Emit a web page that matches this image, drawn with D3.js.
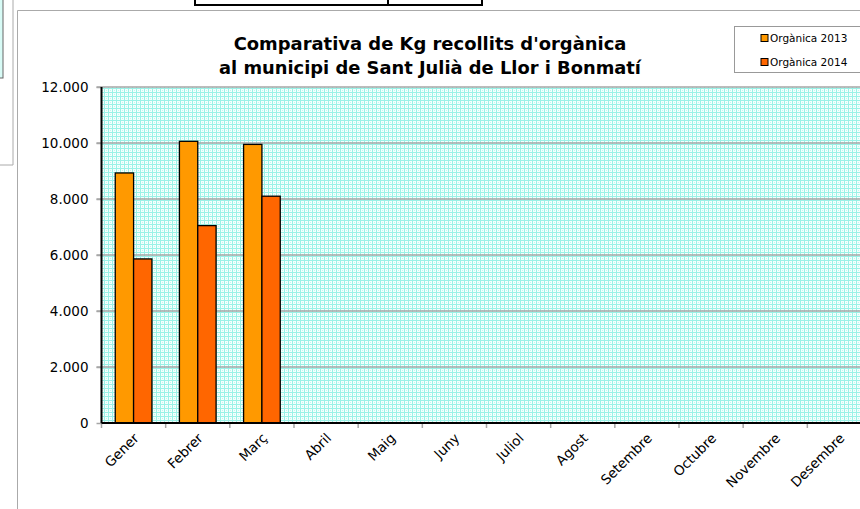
<!DOCTYPE html>
<html><head><meta charset="utf-8">
<script src="https://cdn.jsdelivr.net/npm/d3@7"></script>
<style>html,body{margin:0;padding:0;background:#fff;overflow:hidden}</style>
</head><body>
<svg id="c" width="860" height="509"></svg>
<script>
const months = ["Gener","Febrer","Març","Abril","Maig","Juny","Juliol","Agost","Setembre","Octubre","Novembre","Desembre"];
const series = ["Orgànica 2013","Orgànica 2014"];
const values2013 = [8930, 10060, 9950, null, null, null, null, null, null, null, null, null];
const values2014 = [5860, 7050, 8100, null, null, null, null, null, null, null, null, null];
const yTicks = [0, 2000, 4000, 6000, 8000, 10000, 12000];
const colors = ["#FF9900", "#FF6600"];
const titleLines = ["Comparativa de Kg recollits d'orgànica", "al municipi de Sant Julià de Llor i Bonmatí"];

const svg = d3.select("#c");
const font = "'DejaVu Sans', Verdana, sans-serif";

// background decorations (spreadsheet context)
svg.append("rect").attr("x",-2).attr("y",-2).attr("width",5).attr("height",80).attr("fill","#d8fbf6").attr("stroke","#666");
svg.append("path").attr("d","M13,0 V165 H0").attr("fill","none").attr("stroke","#aaa");
svg.append("rect").attr("x",195).attr("y",-3).attr("width",287).attr("height",8).attr("fill","#fff").attr("stroke","#000").attr("stroke-width",2);
svg.append("line").attr("x1",388).attr("x2",388).attr("y1",0).attr("y2",5).attr("stroke","#000").attr("stroke-width",2);
// chart area border
svg.append("path").attr("d","M17.5,515 V10.5 H870").attr("fill","none").attr("stroke","#aaa");

const m = {left:101.5, top:87, right:871.5, bottom:423};
const x = d3.scaleBand().domain(months).range([m.left, m.right]).paddingInner(0).paddingOuter(0);
const y = d3.scaleLinear().domain([0, 12000]).range([m.bottom, m.top]);
const bw = x.bandwidth();
const x1 = d3.scaleBand().domain(series).range([0, bw]).paddingOuter(0.75).paddingInner(0);

// pattern
const defs = svg.append("defs");
const pat = defs.append("pattern").attr("id","p").attr("width",4).attr("height",4).attr("patternUnits","userSpaceOnUse");
pat.append("rect").attr("width",4).attr("height",4).attr("fill","#f4fffd");
pat.append("rect").attr("width",4).attr("height",1).attr("fill","#9af2e7");
pat.append("rect").attr("width",1).attr("height",4).attr("fill","#9af2e7");
pat.append("rect").attr("x",2).attr("y",2).attr("width",1).attr("height",1).attr("fill","#c2f8f0");

svg.append("rect").attr("x",m.left).attr("y",m.top).attr("width",m.right-m.left).attr("height",m.bottom-m.top).attr("fill","url(#p)");

// gridlines
svg.append("g").selectAll("line").data(yTicks.filter(d=>d>0)).join("line")
  .attr("x1",m.left-5).attr("x2",m.right).attr("y1",d=>y(d)).attr("y2",d=>y(d))
  .attr("stroke","#a6a6a6").attr("stroke-width",1.6);

// y axis
const ya = svg.append("g").attr("transform",`translate(${m.left},0)`)
  .call(d3.axisLeft(y).tickValues(yTicks).tickSize(5).tickPadding(8)
    .tickFormat(d=>d3.format(",")(d).replace(/,/g,".")));
ya.select(".domain").remove();
ya.selectAll(".tick line").attr("stroke","#a6a6a6").attr("stroke-width",1.5);
ya.selectAll("text").attr("font-family",font).attr("font-size",13.5).attr("fill","#000");

// x axis
const xa = svg.append("g").attr("transform",`translate(0,${m.bottom})`)
  .call(d3.axisBottom(x).tickSize(0).tickFormat(""));
xa.select(".domain").remove();
const bounds = [...months.map(d=>x(d)), m.right];
xa.selectAll("line.tk").data(bounds).join("line").attr("class","tk")
  .attr("x1",d=>d).attr("x2",d=>d).attr("y1",0).attr("y2",5).attr("stroke","#a6a6a6").attr("stroke-width",1.5);
xa.selectAll("text.lb").data(months).join("text").attr("class","lb")
  .attr("transform",d=>`translate(${x(d)+bw/2+6},${16}) rotate(-45)`)
  .attr("text-anchor","end").attr("font-family",font).attr("font-size",13.5).attr("fill","#000")
  .text(d=>d);

// bars
const data = months.map((mo,i)=>({mo, vals:[values2013[i], values2014[i]]}));
const g = svg.append("g");
data.forEach(d=>{
  d.vals.forEach((v,j)=>{
    if (v==null) return;
    g.append("rect").attr("x",x(d.mo)+x1(series[j])).attr("y",y(v))
      .attr("width",x1.bandwidth()).attr("height",y(0)-y(v))
      .attr("fill",colors[j]).attr("stroke","#000").attr("stroke-width",1.3);
  });
});

// axis lines
svg.append("line").attr("x1",m.left).attr("x2",m.left).attr("y1",m.top).attr("y2",m.bottom).attr("stroke","#000").attr("stroke-width",2);
svg.append("line").attr("x1",m.left).attr("x2",m.right).attr("y1",m.bottom).attr("y2",m.bottom).attr("stroke","#000").attr("stroke-width",2);

// title
const tw = [393, 422];
titleLines.forEach((t,i)=>{
  const tx = svg.append("text").attr("x",430).attr("y",50+i*24).attr("text-anchor","middle")
    .attr("font-family",font).attr("font-weight","bold").attr("font-size",18).attr("fill","#000").text(t);
  const w = tx.node().getComputedTextLength();
  tx.attr("font-size", 18*tw[i]/w);
});

// legend
const lg = svg.append("g");
lg.append("rect").attr("x",734.5).attr("y",26.5).attr("width",140).attr("height",46).attr("fill","#fff").attr("stroke","#999");
series.forEach((s,i)=>{
  const yy = 38 + i*24;
  lg.append("rect").attr("x",761).attr("y",yy-3.5).attr("width",7).attr("height",7).attr("fill",colors[i]).attr("stroke","#000").attr("stroke-width",1);
  lg.append("text").attr("x",770).attr("y",yy+4).attr("font-family",font).attr("font-size",10.5).attr("fill","#000").text(s);
});
</script>
</body></html>
